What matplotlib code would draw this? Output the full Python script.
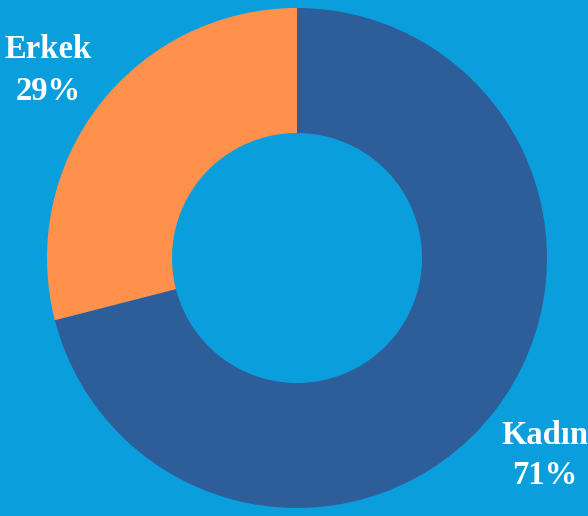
import matplotlib
matplotlib.use("Agg")
import matplotlib.pyplot as plt

labels = ["Kadın", "Erkek"]
values = [71, 29]
colors = ["#2E5E99", "#FF914D"]
bg = "#0A9FDC"

fig = plt.figure(figsize=(5.88, 5.16), dpi=100)
fig.patch.set_facecolor(bg)
ax = fig.add_axes([0, 0, 1, 1])
ax.set_facecolor(bg)

ax.pie(values, colors=colors, startangle=90, counterclock=False,
       radius=1.0, wedgeprops=dict(width=0.5, linewidth=0))
ax.set_xlim(-297/250, (588-297)/250)
ax.set_ylim(-258/250, 258/250)
ax.set_aspect("equal")
ax.axis("off")

font = dict(family="Liberation Serif", weight="bold", color="white", fontsize=23.5,
            ha="center", va="center")
pos = {"Erkek": (-0.996, 0.836, 0.665), "Kadın": (0.992, -0.708, -0.871)}
for lab, val in zip(labels, values):
    x, y1, y2 = pos[lab]
    ax.text(x, y1, lab, **font)
    ax.text(x, y2, f"{val}%", **font)

fig.savefig("out.png", dpi=100, facecolor=bg)
